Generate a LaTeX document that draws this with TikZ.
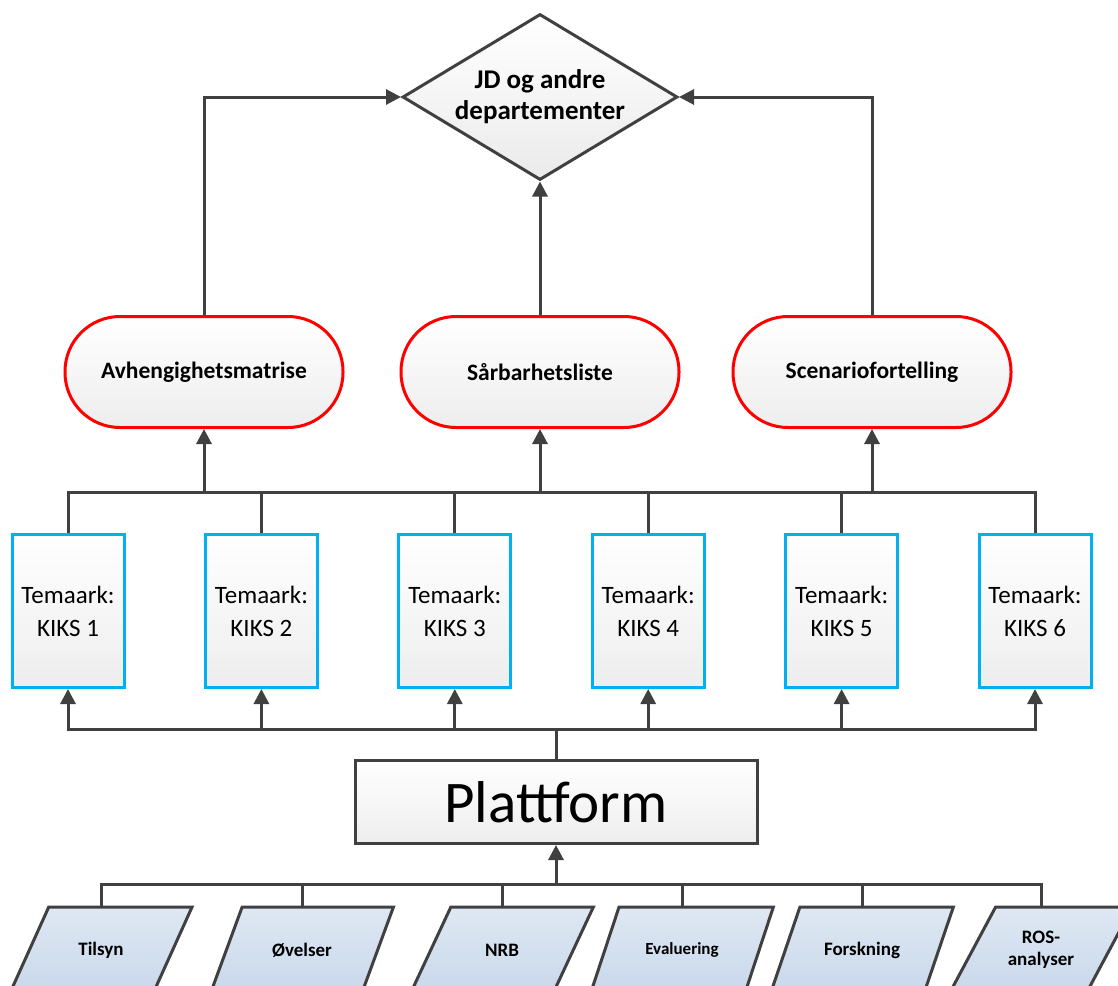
\documentclass[tikz,border=0pt]{standalone}
\usepackage{fontspec}
\setmainfont{Carlito}
\usetikzlibrary{positioning,shapes.geometric,arrows.meta}
\definecolor{linegray}{HTML}{404040}
\definecolor{kiksblue}{HTML}{00B0F0}
\definecolor{srctop}{HTML}{DFE8F3}
\definecolor{srcbottom}{HTML}{C8D8EB}

\begin{document}
\begin{tikzpicture}[x=1pt,y=-1pt]
\tikzstyle{wire}=[draw=linegray, line width=3pt]
\tikzstyle{connect}=[wire, -{Triangle[length=15pt,width=15pt]}]
\tikzstyle{decision}=[diamond, aspect=1.66, inner sep=0pt, minimum width=275pt, minimum height=166pt, wire, top color=white, bottom color=black!8, align=center, font=\fontsize{27}{31}\selectfont\bfseries]
\tikzstyle{result}=[rectangle, rounded corners=55pt, minimum width=278pt, minimum height=111pt, draw=red, line width=3pt, top color=white, bottom color=black!7, font=\fontsize{23.5}{26}\selectfont\bfseries]
\tikzstyle{theme}=[rectangle, minimum width=112pt, minimum height=153pt, draw=kiksblue, line width=3pt, top color=white, bottom color=black!7, align=center, font=\fontsize{25}{33}\selectfont]
\tikzstyle{platform}=[rectangle, minimum width=402pt, minimum height=83pt, wire, top color=white, bottom color=black!7, font=\fontsize{59}{62}\selectfont]
\tikzstyle{source}=[trapezium, trapezium left angle=50, trapezium right angle=130, trapezium stretches=true, minimum width=183pt, minimum height=86pt, wire, top color=srctop, bottom color=srcbottom, align=center, font=\fontsize{19}{22}\selectfont\bfseries]
  \useasboundingbox (0,0) rectangle (1118,985);

  \node[decision] (jd) at (540,97) {JD og andre\\departementer};

  \node[result] (avh) at (204,372) {Avhengighetsmatrise};
  \node[result] (sarb) [right=55pt of avh] {Sårbarhetsliste};
  \node[result] (scen) [right=51pt of sarb] {Scenariofortelling};

  \node[theme] (k1) at (68,611) {Temaark:\\KIKS 1};
  \node[theme] (k2) [right=78.4pt of k1] {Temaark:\\KIKS 2};
  \node[theme] (k3) [right=78.4pt of k2] {Temaark:\\KIKS 3};
  \node[theme] (k4) [right=78.4pt of k3] {Temaark:\\KIKS 4};
  \node[theme] (k5) [right=78.4pt of k4] {Temaark:\\KIKS 5};
  \node[theme] (k6) [right=78.4pt of k5] {Temaark:\\KIKS 6};

  \node[platform] (plat) at (556,802) {Plattform};

  \node[source] (tilsyn) at (101,950) {Tilsyn};
  \node[source] (ovelser) at (302,950) {Øvelser};
  \node[source] (nrb) at (502,950) {NRB};
  \node[source, font=\fontsize{17}{20}\selectfont\bfseries] (eval) at (682,950) {Evaluering};
  \node[source] (forsk) at (862,950) {Forskning};
  \node[source] (ros) at (1041,950) {ROS-\\analyser};

  \coordinate (srcbus) at (556,884);
  \coordinate (kbus) at (556,729);
  \coordinate (topbus) at (540,492);

  % sources -> platform
  \draw[wire] (tilsyn.north) |- (srcbus) -| (ros.north);
  \draw[wire] (ovelser.north) -- (ovelser.north |- srcbus);
  \draw[wire] (nrb.north) -- (nrb.north |- srcbus);
  \draw[wire] (eval.north) -- (eval.north |- srcbus);
  \draw[wire] (forsk.north) -- (forsk.north |- srcbus);
  \draw[connect] (srcbus) -- (plat.south);

  % platform -> temaark
  \draw[wire] (plat.north) -- (kbus);
  \draw[connect] (kbus) -| (k1.south);
  \draw[connect] (kbus) -| (k2.south);
  \draw[connect] (kbus) -| (k3.south);
  \draw[connect] (kbus) -| (k4.south);
  \draw[connect] (kbus) -| (k5.south);
  \draw[connect] (kbus) -| (k6.south);

  % temaark -> results
  \draw[wire] (k1.north) |- (topbus) -| (k6.north);
  \draw[wire] (k2.north) -- (k2.north |- topbus);
  \draw[wire] (k3.north) -- (k3.north |- topbus);
  \draw[wire] (k4.north) -- (k4.north |- topbus);
  \draw[wire] (k5.north) -- (k5.north |- topbus);
  \draw[connect] (avh.south |- topbus) -- (avh.south);
  \draw[connect] (sarb.south |- topbus) -- (sarb.south);
  \draw[connect] (scen.south |- topbus) -- (scen.south);

  % results -> JD
  \draw[connect] (avh.north) |- (jd.west);
  \draw[connect] (sarb.north) -- (jd.south);
  \draw[connect] (scen.north) |- (jd.east);
\end{tikzpicture}
\end{document}
